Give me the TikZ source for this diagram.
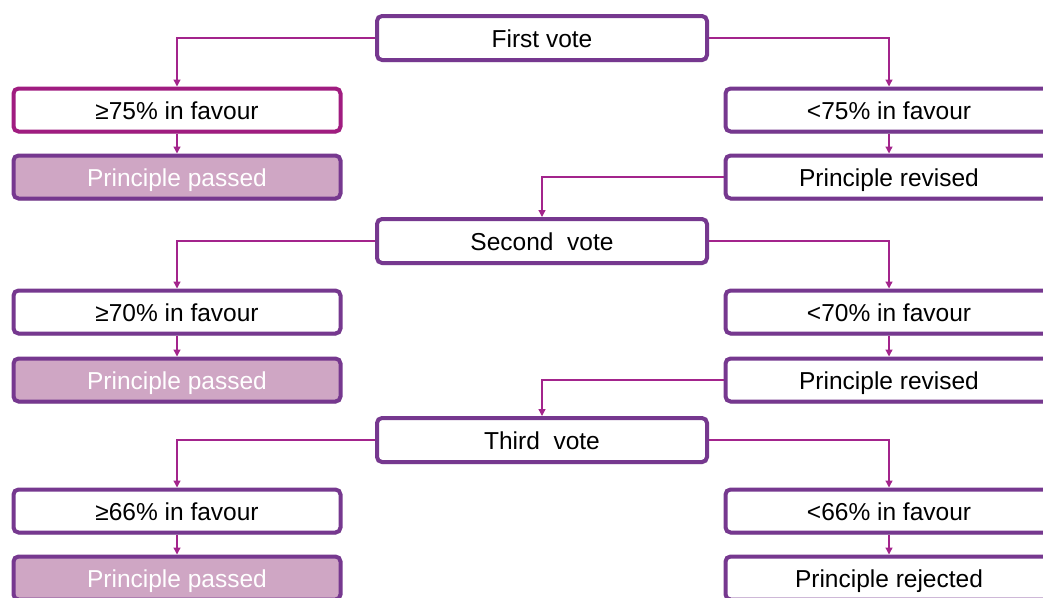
\documentclass[tikz,border=0pt]{standalone}
\usepackage{fontspec}
\setmainfont{Liberation Sans}
\usetikzlibrary{arrows.meta,shadows}
\definecolor{bord}{RGB}{118,56,143}
\definecolor{mag}{RGB}{160,28,128}
\definecolor{conn}{RGB}{163,36,140}
\definecolor{pass}{RGB}{207,166,196}
\tikzset{
  box/.style={draw=bord, line width=4pt, rounded corners=5pt, fill=white,
    minimum width=327pt, minimum height=43pt, inner sep=0pt,
    text height=21.5pt, text depth=2pt,
    font=\fontsize{24.5}{28}\selectfont,
    drop shadow={shadow xshift=1pt,shadow yshift=-2pt,opacity=0.2,fill=black}},
  votebox/.style={box, minimum width=330pt, minimum height=44pt},
  favbox/.style={box},
  magbox/.style={box, draw=mag},
  passbox/.style={box, fill=pass, text=white},
  link/.style={draw=conn, line width=1.3pt, -{Triangle[length=7pt,width=7pt]}},
}
\begin{document}
\begin{tikzpicture}[x=1pt,y=-1pt]
\useasboundingbox (0,0) rectangle (1043,597);
\clip (0,0) rectangle (1043,597);
% first round
\node[votebox] (v1) at (542,38) {First vote};
\node[magbox] (f1) at (177,110) {≥75\% in favour};
\node[passbox] (p1) at (177,177) {Principle passed};
\node[favbox] (n1) at (889,110) {<75\% in favour};
\node[favbox] (r1) at (889,177) {Principle revised};
% second round
\node[votebox] (v2) at (542,241) {Second~~vote};
\node[favbox] (f2) at (177,312) {≥70\% in favour};
\node[passbox] (p2) at (177,380) {Principle passed};
\node[favbox] (n2) at (889,312) {<70\% in favour};
\node[favbox] (r2) at (889,380) {Principle revised};
% third round
\node[votebox] (v3) at (542,440) {Third~~vote};
\node[favbox] (f3) at (177,511) {≥66\% in favour};
\node[passbox] (p3) at (177,578) {Principle passed};
\node[favbox] (n3) at (889,511) {<66\% in favour};
\node[favbox] (r3) at (889,578) {Principle rejected};
% connectors
\draw[link] (v1.west) -| (f1.north);
\draw[link] (v1.east) -| (n1.north);
\draw[link] (f1) -- (p1);
\draw[link] (n1) -- (r1);
\draw[link] (r1.west) -| (v2.north);
\draw[link] (v2.west) -| (f2.north);
\draw[link] (v2.east) -| (n2.north);
\draw[link] (f2) -- (p2);
\draw[link] (n2) -- (r2);
\draw[link] (r2.west) -| (v3.north);
\draw[link] (v3.west) -| (f3.north);
\draw[link] (v3.east) -| (n3.north);
\draw[link] (f3) -- (p3);
\draw[link] (n3) -- (r3);
\end{tikzpicture}
\end{document}
